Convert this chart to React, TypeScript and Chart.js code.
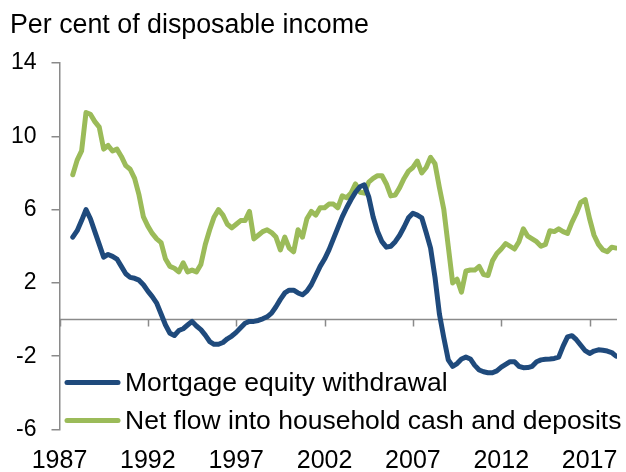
import React, { useEffect, useRef } from "react";
import { Chart, registerables } from "chart.js";

Chart.register(...registerables);

const titleText = "Per cent of disposable income";
const seriesNames = ["Mortgage equity withdrawal", "Net flow into household cash and deposits"];
const seriesColors = ["#1F4A7C", "#9BBB59"];

const firstQuarter = 1987.75; // 1987 Q4
const xTickYears = [1987, 1992, 1997, 2002, 2007, 2012, 2017];
const yTickValues = [-6, -2, 2, 6, 10, 14];

const mortgageEquityWithdrawal = [
  4.5, 4.85, 5.4, 6.0, 5.5, 4.8, 4.1, 3.4, 3.55, 3.45,
  3.3, 2.9, 2.5, 2.3, 2.25, 2.15, 1.9, 1.55, 1.25, 0.9,
  0.3, -0.3, -0.75, -0.87, -0.6, -0.5, -0.3, -0.1, -0.35, -0.55,
  -0.85, -1.2, -1.35, -1.35, -1.25, -1.05, -0.9, -0.7, -0.45, -0.2,
  -0.1, -0.1, -0.05, 0.04, 0.15, 0.35, 0.7, 1.1, 1.45, 1.6,
  1.6, 1.45, 1.35, 1.55, 1.9, 2.4, 2.9, 3.3, 3.8, 4.4,
  5.0, 5.6, 6.1, 6.55, 6.95, 7.25, 7.35, 6.7, 5.6, 4.8,
  4.25, 3.95, 4.0, 4.25, 4.6, 5.05, 5.55, 5.8, 5.7, 5.55,
  4.75, 3.9, 2.3, 0.3, -1.0, -2.2, -2.55, -2.4, -2.15, -2.05,
  -2.15, -2.5, -2.75, -2.85, -2.9, -2.9, -2.8, -2.6, -2.45, -2.3,
  -2.3, -2.55, -2.63, -2.62, -2.55, -2.3, -2.2, -2.17, -2.15, -2.12,
  -2.05, -1.45, -0.95, -0.88, -1.1, -1.4, -1.7, -1.85, -1.72, -1.65,
  -1.68, -1.72, -1.8, -2.0,
];

const netFlowCashDeposits = [
  7.9, 8.7, 9.2, 11.3, 11.2, 10.8, 10.5, 9.3, 9.5, 9.2,
  9.3, 8.9, 8.4, 8.2, 7.7, 6.8, 5.6, 5.1, 4.7, 4.4,
  4.2, 3.3, 2.9, 2.8, 2.6, 3.1, 2.6, 2.7, 2.6, 3.0,
  4.1, 4.9, 5.6, 6.0, 5.7, 5.2, 5.0, 5.2, 5.4, 5.4,
  5.9, 4.4, 4.6, 4.8, 4.9, 4.75, 4.5, 3.8, 4.5, 3.9,
  3.7, 4.9, 4.5, 5.5, 5.9, 5.7, 6.1, 6.1, 6.3, 6.3,
  6.1, 6.75, 6.65, 6.9, 7.4, 6.95, 6.9, 7.5, 7.7, 7.85,
  7.85, 7.4, 6.75, 6.8, 7.2, 7.7, 8.1, 8.3, 8.65, 8.0,
  8.3, 8.85, 8.5, 7.2, 6.0, 4.0, 2.0, 2.2, 1.5, 2.65,
  2.7, 2.7, 2.9, 2.45, 2.4, 3.2, 3.6, 3.85, 4.15, 4.0,
  3.85, 4.25, 4.95, 4.55, 4.4, 4.25, 4.0, 4.1, 4.85, 4.8,
  4.95, 4.8, 4.7, 5.3, 5.8, 6.4, 6.55, 5.5, 4.6, 4.1,
  3.8, 3.7, 3.95, 3.9,
];

const quarterDates = mortgageEquityWithdrawal.map((_, i) => firstQuarter + i * 0.25);

const FONT = '"Liberation Sans", Arial, sans-serif';
const AXIS_GREY = "#8A8A8A";

const decorPlugin = {
  id: "decor",
  beforeDatasetsDraw(chart: any) {
    const { ctx, chartArea, scales } = chart;
    const y0 = scales.y.getPixelForValue(0);
    ctx.save();
    ctx.strokeStyle = AXIS_GREY;
    ctx.lineWidth = 1.5;
    ctx.beginPath();
    ctx.moveTo(chartArea.left, y0);
    ctx.lineTo(chartArea.right, y0);
    ctx.stroke();
    ctx.beginPath();
    for (const yr of xTickYears) {
      const x = Math.round(scales.x.getPixelForValue(yr)) + 0.5;
      ctx.moveTo(x, y0);
      ctx.lineTo(x, y0 + 7);
    }
    ctx.stroke();
    ctx.restore();
  },
  afterDraw(chart: any) {
    const { ctx } = chart;
    ctx.save();
    ctx.fillStyle = "#000";
    ctx.textBaseline = "alphabetic";
    ctx.textAlign = "left";
    ctx.font = `26.8px ${FONT}`;
    ctx.fillText(titleText, 10, 33);

    const legendYs = [382.5, 420.5];
    ctx.font = `26.5px ${FONT}`;
    seriesNames.forEach((name, i) => {
      ctx.strokeStyle = seriesColors[i];
      ctx.lineWidth = 5;
      ctx.lineCap = "round";
      ctx.beginPath();
      ctx.moveTo(67, legendYs[i]);
      ctx.lineTo(118, legendYs[i]);
      ctx.stroke();
      ctx.fillStyle = "#000";
      ctx.fillText(name, 125, legendYs[i] + 8);
    });
    ctx.restore();
  },
};

export default function App() {
  const ref = useRef<HTMLCanvasElement | null>(null);

  useEffect(() => {
    if (!ref.current) return;
    Chart.defaults.font.family = FONT;
    const chart = new Chart(ref.current, {
      type: "line",
      data: {
        datasets: [
          {
            label: seriesNames[0],
            data: quarterDates.map((x, i) => ({ x, y: mortgageEquityWithdrawal[i] })),
            borderColor: seriesColors[0],
            backgroundColor: seriesColors[0],
            borderWidth: 5,
            pointRadius: 0,
            tension: 0,
            borderJoinStyle: "round",
            borderCapStyle: "round",
          },
          {
            label: seriesNames[1],
            data: quarterDates.map((x, i) => ({ x, y: netFlowCashDeposits[i] })),
            borderColor: seriesColors[1],
            backgroundColor: seriesColors[1],
            borderWidth: 5,
            pointRadius: 0,
            tension: 0,
            borderJoinStyle: "round",
            borderCapStyle: "round",
          },
        ],
      },
      options: {
        animation: false,
        responsive: false,
        maintainAspectRatio: false,
        layout: { padding: { top: 63, right: 9, left: 0, bottom: 0 } },
        plugins: {
          legend: { display: false },
          tooltip: { enabled: false },
          title: { display: false },
        },
        scales: {
          x: {
            type: "linear",
            min: 1987,
            max: 2018.55,
            grid: { display: false, drawTicks: false },
            border: { display: false },
            afterBuildTicks: (s: any) => {
              s.ticks = xTickYears.map((v) => ({ value: v }));
            },
            afterFit: (s: any) => {
              s.height = 42.5;
              s.paddingRight = 0;
              s.paddingLeft = 0;
            },
            ticks: {
              callback: (v: any) => String(v),
              font: { size: 25, family: FONT },
              color: "#000",
              padding: 17,
              maxRotation: 0,
              autoSkip: false,
            },
          },
          y: {
            min: -6,
            max: 14,
            afterBuildTicks: (s: any) => {
              s.ticks = yTickValues.map((v) => ({ value: v }));
            },
            afterFit: (s: any) => {
              s.width = 59.5;
              s.paddingTop = 0;
              s.paddingBottom = 0;
            },
            grid: {
              drawOnChartArea: false,
              drawTicks: true,
              tickLength: 8,
              color: AXIS_GREY,
              lineWidth: 1.5,
            },
            border: { display: true, color: AXIS_GREY, width: 1.5 },
            ticks: {
              padding: 15,
              font: { size: 23, family: FONT },
              color: "#000",
              callback: (v: any) => String(v),
            },
          },
        },
      },
      plugins: [decorPlugin],
    });
    return () => chart.destroy();
  }, []);

  return (
    <div style={{ position: "absolute", left: 0, top: 0, width: 626, height: 472, background: "#fff" }}>
      <canvas ref={ref} width={626} height={472} style={{ display: "block", width: 626, height: 472 }} />
    </div>
  );
}
